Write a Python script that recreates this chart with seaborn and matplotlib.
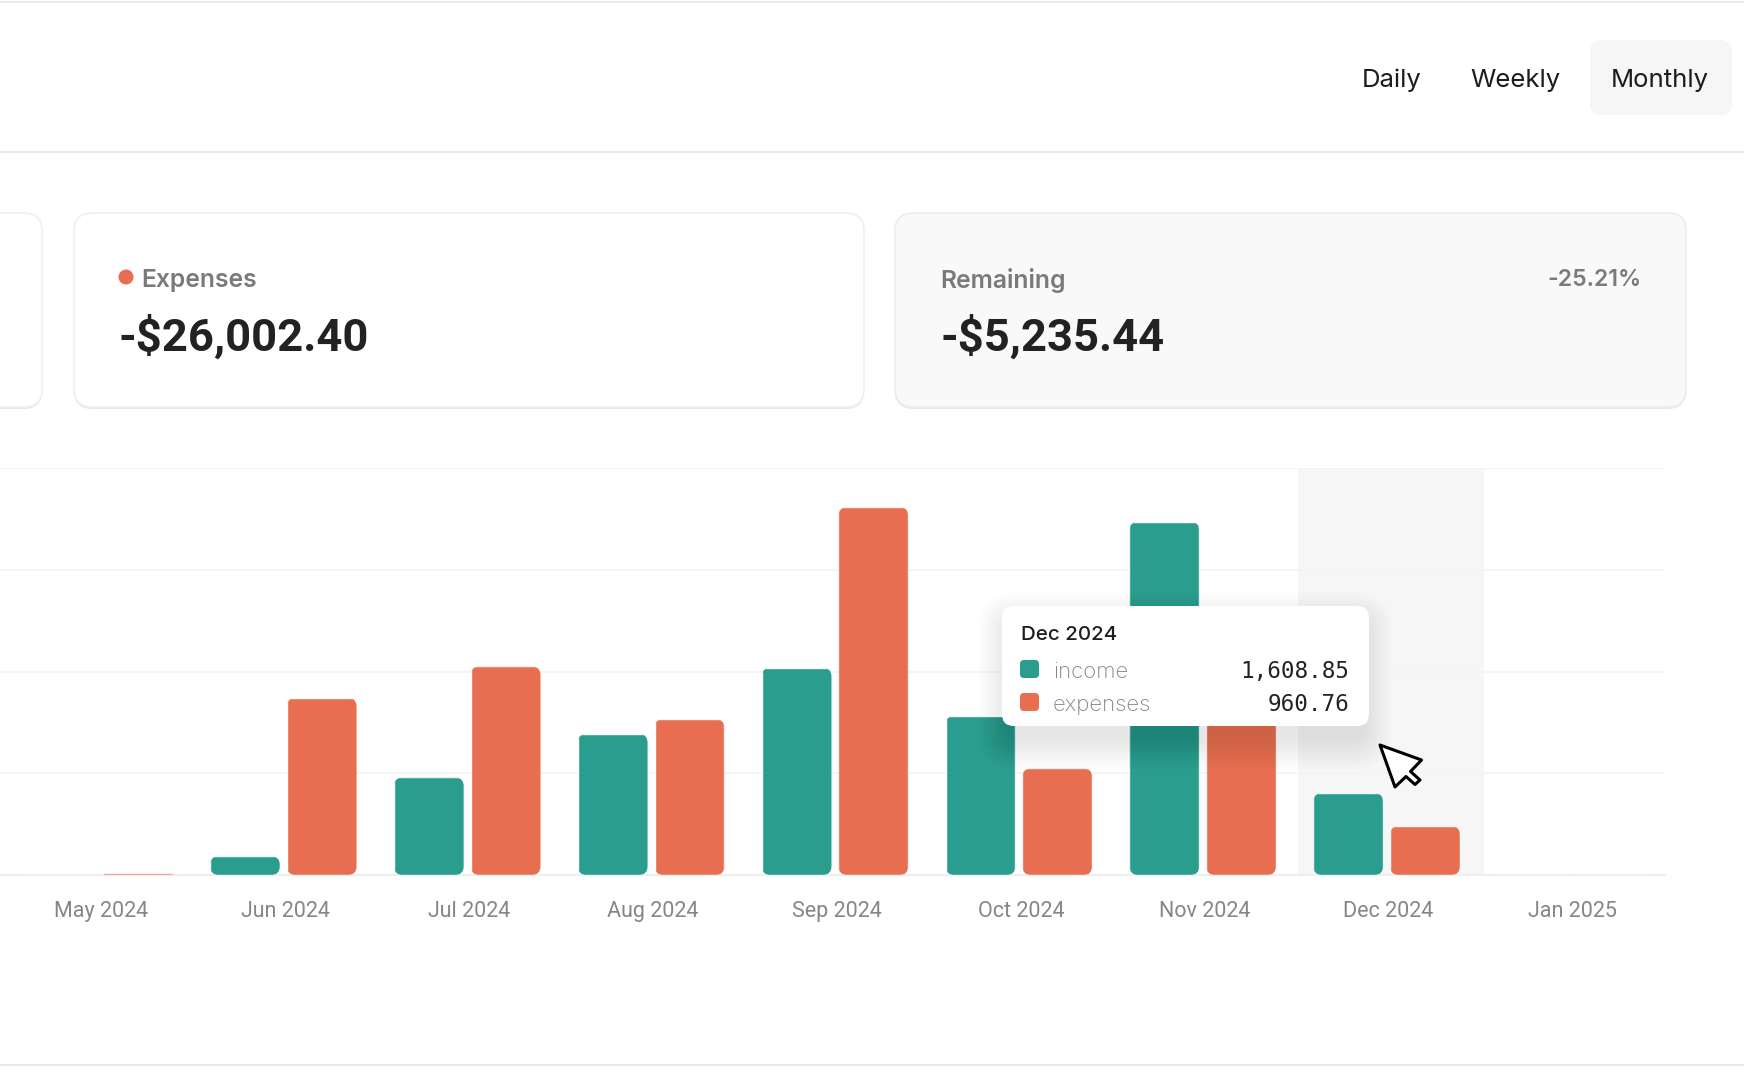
import numpy as np
import pandas as pd
import matplotlib
matplotlib.use("Agg")
import matplotlib.pyplot as plt
import seaborn as sns
from matplotlib.patches import FancyBboxPatch, Circle, Polygon
from matplotlib.transforms import IdentityTransform, ScaledTranslation

# values (tooltip numbers are exact)
months = ["May 2024", "Jun 2024", "Jul 2024", "Aug 2024", "Sep 2024",
          "Oct 2024", "Nov 2024", "Dec 2024", "Jan 2025"]
income = [0, 370, 1917, 2775, 4075, 3125, 6945, 1608.85, 0]
expenses = [30, 3482, 4100, 3064, 7230, 2095, 5042, 960.76, 0]
y_ticks = [0, 2000, 4000, 6000, 8000]
periods = ["Daily", "Weekly", "Monthly"]

TEAL = "#2a9d8f"
ORANGE = "#e76e50"
W, H = 1744, 1080

sns.set_theme(style="white")
plt.rcParams["font.family"] = ["Inter", "DejaVu Sans"]

df = pd.DataFrame({
    "month": months * 2,
    "value": income + expenses,
    "series": ["income"] * len(months) + ["expenses"] * len(months),
})

fig = plt.figure(figsize=(W / 100, H / 100), dpi=100, facecolor="white")


def rounded(ax, x0, y0, x1, y1, r, **kw):
    box = FancyBboxPatch((x0 + r, y0 + r), x1 - x0 - 2 * r, y1 - y0 - 2 * r,
                         boxstyle=f"round,pad={r},rounding_size={r}", **kw)
    ax.add_patch(box)
    return box


# chart area, in figure pixels: x 0-1665, y 468-875
ax = fig.add_axes([0, (H - 875) / H, 1665 / W, (875 - 468) / H])
sns.barplot(data=df, x="month", y="value", hue="series", order=months,
            hue_order=["income", "expenses"], palette=[TEAL, ORANGE],
            width=0.835, gap=0.09, legend=False, saturation=1, ax=ax)
ax.set_xlim(-0.541, 8.514)
ax.set_ylim(0, 8000)
ax.set_xlabel("")
ax.set_ylabel("")
ax.set_yticks(y_ticks)
ax.set_yticklabels([])
ax.set_axisbelow(True)
ax.grid(axis="y", color="#f4f4f4", lw=1.2)
ax.grid(axis="x", visible=False)
ax.tick_params(axis="x", length=0, pad=26, labelsize=15.5, labelcolor="#868686")
label_shift = ScaledTranslation(2 / 100, 0, fig.dpi_scale_trans)
for lab in ax.get_xticklabels():
    lab.set_family(["Roboto", "DejaVu Sans"])
    lab.set_va("center")
    lab.set_transform(lab.get_transform() + label_shift)
ax.tick_params(axis="y", length=0)
sns.despine(ax=ax, left=True, bottom=True, top=True, right=True)
ax.patch.set_alpha(0)
ax.axvspan(6.518, 7.529, color="#f6f6f6", lw=0, zorder=0)
ax.axhline(0, color="#eeeeee", lw=1.5, zorder=0.6, clip_on=False)

# round the bar corners by clipping them
for bar in ax.patches:
    if bar.get_height() <= 0 or bar.get_width() >= 1:
        continue
    (px0, py0), (px1, py1) = ax.transData.transform(
        [(bar.get_x(), 0), (bar.get_x() + bar.get_width(), bar.get_height())])
    r = min(9, (py1 - py0) / 2)
    clip = FancyBboxPatch((px0 + r, py0 + r), px1 - px0 - 2 * r, py1 - py0 - 2 * r,
                          boxstyle=f"round,pad={r},rounding_size={r}",
                          transform=IdentityTransform())
    bar.set_clip_path(clip)
    bar.set_zorder(2)

# everything else sits on a pixel overlay
ui = fig.add_axes([0, 0, 1, 1], zorder=5)
ui.set_xlim(0, W)
ui.set_ylim(H, 0)
ui.axis("off")

for y in [2, 152, 1065]:
    ui.plot([0, W], [y, y], color="#e9e9e9", lw=1.4, solid_capstyle="butt")

# period switch
rounded(ui, 1590, 40, 1732, 115, 12, fc="#f6f6f6", ec="none")
for name, cx in zip(periods, [1392, 1515, 1660]):
    ui.text(cx, 78, name, ha="center", va="center_baseline", fontsize=18.5, color="#1c1c1c")


# summary cards
def card(x0, x1, fill, edge):
    rounded(ui, x0, 215, x1, 409, 18, fc="#e8e8e8", ec="none")
    rounded(ui, x0, 213, x1, 407, 18, fc=fill, ec=edge, lw=1.2)


card(-40, 42, "white", "#efefef")
card(74, 864, "white", "#efefef")
card(895, 1686, "#f9f9f9", "#ececec")
ui.add_patch(Circle((126, 277), 7.5, fc=ORANGE, ec="none"))
ui.text(141, 278, "Expenses", va="center_baseline", fontsize=17.8, fontweight="semibold", color="#7a7a7a")
ui.text(118, 333, "-$26,002.40", va="center_baseline", fontsize=32.7, fontweight="bold", color="#222222",
        family=["Roboto", "DejaVu Sans"])
ui.text(940, 278, "Remaining", va="center_baseline", fontsize=17.8, fontweight="semibold", color="#7a7a7a")
ui.text(940, 333, "-$5,235.44", va="center_baseline", fontsize=32.7, fontweight="bold", color="#222222",
        family=["Roboto", "DejaVu Sans"])
ui.text(1641, 278, "-25.21%", va="center_baseline", ha="right", fontsize=16.6, fontweight="semibold", color="#7a7a7a")

# tooltip with soft shadow
for i in range(12):
    p = i * 2.5
    rounded(ui, 1006 - p, 620 - p, 1365 + p, 742 + p, 12 + p, fc="black", ec="none", alpha=0.008)
rounded(ui, 1002, 606, 1369, 726, 12, fc="white", ec="none")
ui.text(1021, 633, "Dec 2024", va="center_baseline", fontsize=14.8, fontweight="medium", color="#1e1e1e")
rows = [("income", TEAL, income[7], 669), ("expenses", ORANGE, expenses[7], 702)]
for label, col, val, y in rows:
    rounded(ui, 1020, y - 9, 1039, y + 9, 4, fc=col, ec="none")
    ui.text(1053, y + 1, label, va="center_baseline", fontsize=16, fontweight="light", color="#858585")
    ui.text(1349, y, f"{val:,.2f}", va="center_baseline", ha="right", fontsize=16.3,
            family="DejaVu Sans Mono", color="#222222")

# mouse pointer
cursor = [(1380, 745), (1421.5, 760), (1410.5, 771.5), (1420, 780), (1415, 784.5),
          (1406, 776.5), (1395, 787)]
ui.add_patch(Polygon(cursor, closed=True, fc="white", ec="black", lw=2.2, joinstyle="round"))

fig.savefig("out.png", dpi=100)
